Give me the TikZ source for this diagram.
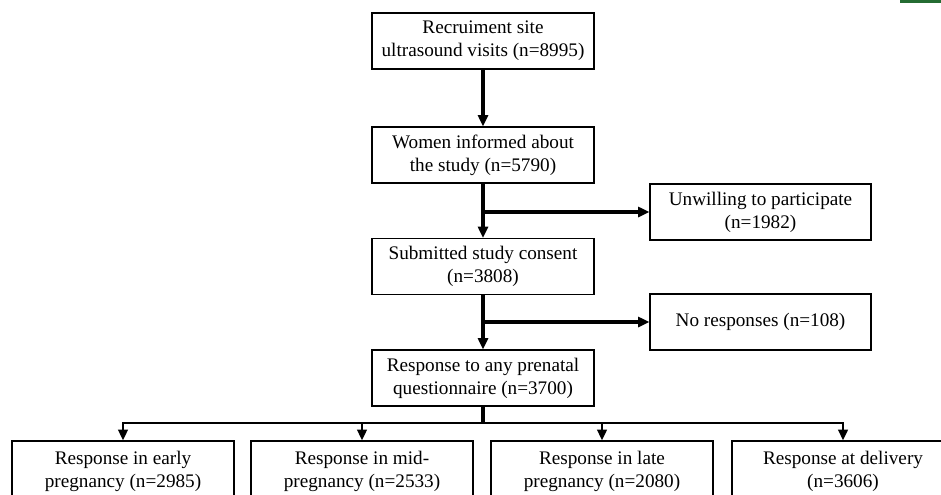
\documentclass[tikz,border=0pt]{standalone}
\usepackage{fontspec}
\setmainfont{Liberation Serif}
\usetikzlibrary{arrows.meta}
\definecolor{cornergreen}{RGB}{36,108,50}
\begin{document}
\begin{tikzpicture}[x=0.75pt, y=-0.75pt, font=\fontsize{14.4}{17.3}\selectfont, line join=miter,
		box/.style={draw, line width=0.9pt, align=center, minimum width=166.5pt, minimum height=42pt, inner sep=2pt},
		lowbox/.style={box, minimum height=45pt},
		flow/.style={line width=2.5pt, -{Triangle[length=8.5pt,width=7.5pt]}},
		split/.style={line width=2pt, -{Triangle[length=8pt,width=7pt]}}]
		\useasboundingbox (0,0) rectangle (941,494);
		\fill[cornergreen] (900,0) rectangle (941,2.5);
		\node[box] (recruit) at (483,41) {Recruiment site\\ultrasound visits (n=8995)};
		\node[box] (inform) at (483,155) {Women informed about\\the study (n=5790)};
		\node[box] (consent) at (483,266.5) {Submitted study consent\\(n=3808)};
		\node[box] (prenatal) at (483,378) {Response to any prenatal\\questionnaire (n=3700)};
		\node[box, minimum width=165.75pt] (unwilling) at (760.5,212) {Unwilling to participate\\(n=1982)};
		\node[box, minimum width=165.75pt] (noresp) at (760.5,322) {No responses (n=108)};
		\node[lowbox] (early) at (123,471) {Response in early\\pregnancy (n=2985)};
		\node[lowbox] (mid) at (362,471) {Response in mid-\\pregnancy (n=2533)};
		\node[lowbox] (late) at (602,471) {Response in late\\pregnancy (n=2080)};
		\node[lowbox] (delivery) at (843,471) {Response at delivery\\(n=3606)};
		\coordinate (fork) at (483,423);
		\draw[flow] (recruit) -- (inform);
		\draw[flow] (inform) -- (consent);
		\draw[flow] (inform.south |- unwilling.west) -- (unwilling.west);
		\draw[flow] (consent) -- (prenatal);
		\draw[flow] (consent.south |- noresp.west) -- (noresp.west);
		\draw[line width=2.5pt] (prenatal.south) -- (fork);
		\draw[line width=2pt, line cap=rect] (fork -| early.north) -- (fork -| delivery.north);
		\foreach \b in {early,mid,late,delivery}
			\draw[split] (fork -| \b.north) -- (\b.north);
\end{tikzpicture}
\end{document}
